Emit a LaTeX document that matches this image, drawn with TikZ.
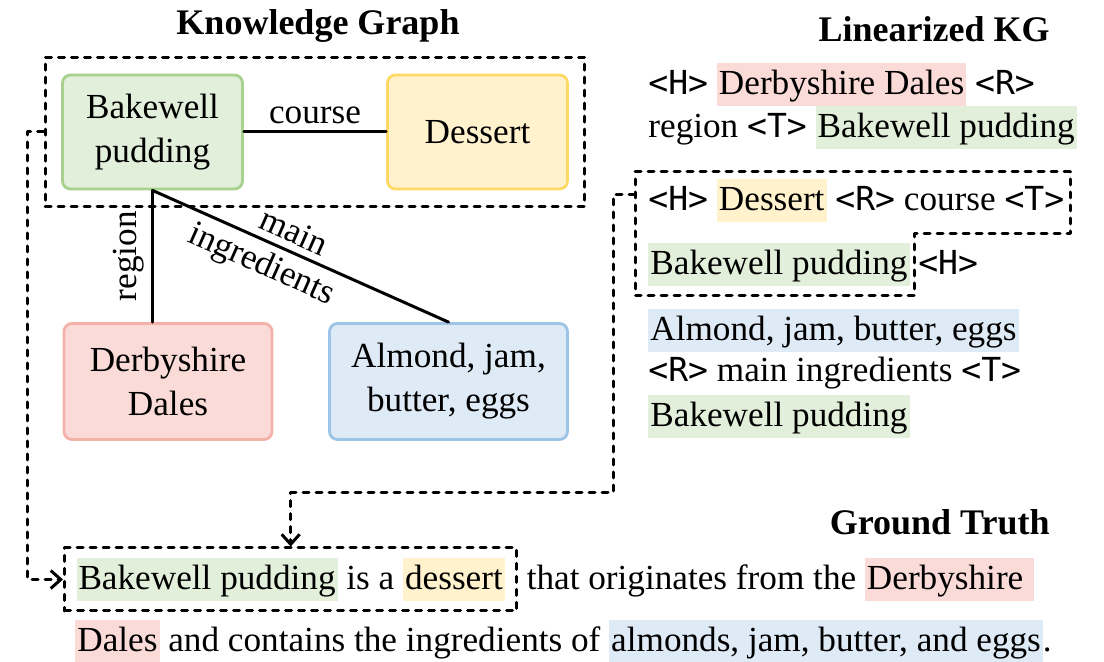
\documentclass[tikz,border=0pt]{standalone}
\usepackage{fontspec}
\setmainfont{Liberation Serif}
\setmonofont{DejaVu Sans Mono}[Scale=0.94]
\usetikzlibrary{arrows.meta,fit}
\definecolor{greenfill}{HTML}{E2EFDA}
\definecolor{greenline}{HTML}{A9D18E}
\definecolor{yellowfill}{HTML}{FFF2CC}
\definecolor{yellowline}{HTML}{FFD966}
\definecolor{redfill}{HTML}{FADBD7}
\definecolor{redline}{HTML}{F4B1A8}
\definecolor{bluefill}{HTML}{DEEAF6}
\definecolor{blueline}{HTML}{9DC3E6}
\newcommand{\hl}[2]{{\setlength{\fboxsep}{1pt}\colorbox{#1}{\rule[-4.5pt]{0pt}{19.5pt}#2}}}
\newcommand{\tok}[1]{\texttt{<#1>}}
\begin{document}
\begin{tikzpicture}[x=0.5pt,y=-0.5pt,line cap=round,line join=round,
    every node/.style={font=\fontsize{17.6}{22}\selectfont},
    title/.style={font=\fontsize{18}{22}\selectfont\bfseries,inner sep=0},
    txt/.style={anchor=base west,inner sep=0},
    kgnode/.style={rounded corners=4pt,line width=1.4pt,align=center,minimum height=57pt},
    edge/.style={line width=1.5pt},
    dashbox/.style={draw,line width=1.5pt,dash pattern=on 3pt off 3.5pt},
    conn/.style={line width=1.5pt,dash pattern=on 3pt off 3.5pt,-{Straight Barb[length=5pt,width=9pt]}}]
  \useasboundingbox (0,0) rectangle (1104,662);
  % knowledge graph
  \node[title,anchor=base] (kgtitle) at (318,35) {Knowledge Graph};
  \node[kgnode,fill=greenfill,draw=greenline,minimum width=90pt] (bake) at (152.5,132) {Bakewell\\pudding};
  \node[kgnode,fill=yellowfill,draw=yellowline,minimum width=90pt] (dess) at (477.5,132) {Dessert};
  \node[kgnode,fill=redfill,draw=redline,minimum width=104pt,minimum height=58pt] (derby) at (168,381.5) {Derbyshire\\Dales};
  \node[kgnode,fill=bluefill,draw=blueline,minimum width=119pt,minimum height=58pt] (alm) at (448.5,381.5) {Almond, jam,\\butter, eggs};
  \draw[edge] (bake) -- node[above]{course} (dess);
  \draw[edge] (bake.south) -- node[midway,above,rotate=90]{region} (bake.south |- derby.north);
  \draw[edge] (bake.south) -- node[pos=.45,sloped,above]{main} node[pos=.4,sloped,below]{ingredients} (alm.north);
  \node[dashbox,fit=(bake)(dess),inner sep=8pt] (kgbox) {};
  % linearized KG
  \node[title,anchor=base east] (lintitle) at (1050,42) {Linearized KG};
  \node[txt] (lin1) at (648,95) {\tok{H} \hl{redfill}{Derbyshire Dales} \tok{R}};
  \node[txt] (lin2) at (648,138) {region \tok{T} \hl{greenfill}{Bakewell pudding}};
  \node[txt] (lin3) at (648,211) {\tok{H} \hl{yellowfill}{Dessert} \tok{R} course \tok{T}};
  \node[txt] (lin4) at (648,275) {\hl{greenfill}{Bakewell pudding} \tok{H}};
  \node[txt] (lin5) at (648,341) {\hl{bluefill}{Almond, jam, butter, eggs}};
  \node[txt] (lin6) at (648,382) {\tok{R} main ingredients \tok{T}};
  \node[txt] (lin7) at (648,427) {\hl{greenfill}{Bakewell pudding}};
  \draw[dashbox] (635,172) -- (1070,172) -- (1070,234) -- (914,234) -- (914,296) -- (635,296) -- cycle;
  \coordinate (polyL) at (635,195);
  \coordinate (turn) at (613,493);
  % ground truth
  \node[title,anchor=base east] (gttitle) at (1050,535) {Ground Truth};
  \node[dashbox,anchor=base west,inner xsep=6pt,inner ysep=5pt] (gtA) at (63,590)
    {\hl{greenfill}{Bakewell pudding} is a \hl{yellowfill}{dessert}};
  \node[txt] (gtB) at ([xshift=4pt]gtA.base east) {that originates from the \hl{redfill}{Derbyshire\ }};
  \node[txt] (gtC) at (75,652) {\hl{redfill}{Dales} and contains the ingredients of \hl{bluefill}{almonds, jam, butter, and eggs}.};
  % connectors
  \draw[conn] (kgbox.west) -- ++(-8pt,0) |- (gtA.west);
  \draw[conn] (polyL) -| (turn) -| (gtA.north);
\end{tikzpicture}
\end{document}
